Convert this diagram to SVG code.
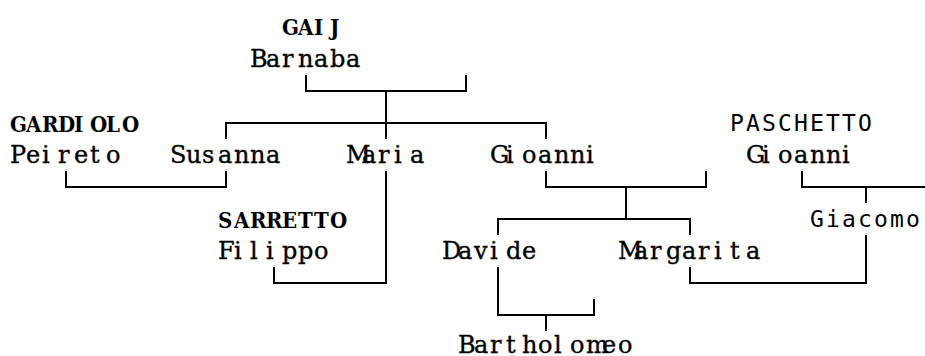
<svg xmlns="http://www.w3.org/2000/svg" width="925" height="356" viewBox="0 0 925 356">
<style>
  .n { font-family: "DejaVu Serif", "Liberation Serif", serif; font-size: 24px; fill: #000; stroke: #000; stroke-width: 0.35; }
  .s { font-family: "DejaVu Serif Condensed", "DejaVu Serif", serif; font-stretch: condensed; font-size: 22px; font-weight: bold; fill: #000; }
  .m { font-family: "DejaVu Sans Mono", "Liberation Mono", monospace; font-size: 23px; fill: #000; }
  .c { fill: none; stroke: #000; stroke-width: 2; stroke-linecap: butt; stroke-linejoin: miter; }
</style>
<rect width="925" height="356" fill="#fff"/>
<g id="connectors" class="c">
  <path d="M306,75 V91 H466 V75"/>
  <path d="M386,91 V139"/>
  <path d="M226,139 V123 H546 V139"/>
  <path d="M66,171 V187 H226 V171"/>
  <path d="M386,171 V283 H274 V267"/>
  <path d="M546,171 V187 H706 V171"/>
  <path d="M626,187 V219"/>
  <path d="M498,235 V219 H690 V235"/>
  <path d="M802,171 V187 H925"/>
  <path d="M866,187 V203"/>
  <path d="M690,267 V283 H866 V235"/>
  <path d="M498,267 V315 H594 V299"/>
  <path d="M546,315 V331"/>
</g>
<g id="gaij-barnaba">
  <text class="s" x="282 298 314 330" y="35">GAIJ</text>
  <text class="n" x="250 266 282 298 314 330 346" y="67">Barnaba</text>
</g>
<g id="gardiolo-peireto">
  <text class="s" x="10 26 42 58 74 90 106 122" y="132">GARDIOLO</text>
  <text class="n" x="10 26 42 58 74 90 106" y="163">Peireto</text>
</g>
<g id="susanna">
  <text class="n" x="170 186 202 218 234 250 266" y="163">Susanna</text>
</g>
<g id="maria">
  <text class="n" x="346 362 378 394 410" y="163">Maria</text>
</g>
<g id="gioanni">
  <text class="n" x="490 506 522 538 554 570 586" y="163">Gioanni</text>
</g>
<g id="paschetto-gioanni">
  <text class="m" x="730 746 762 778 794 810 826 842 858" y="131">PASCHETTO</text>
  <text class="n" x="746 762 778 794 810 826 842" y="163">Gioanni</text>
</g>
<g id="sarretto-filippo">
  <text class="s" x="218 234 250 266 282 298 314 330" y="228">SARRETTO</text>
  <text class="n" x="218 234 250 266 282 298 314" y="259">Filippo</text>
</g>
<g id="giacomo">
  <text class="m" x="810 826 842 858 874 890 906" y="227">Giacomo</text>
</g>
<g id="davide">
  <text class="n" x="442 458 474 490 506 522" y="259">Davide</text>
</g>
<g id="margarita">
  <text class="n" x="618 634 650 666 682 698 714 730 746" y="259">Margarita</text>
</g>
<g id="bartholomeo">
  <text class="n" x="458 474 490 506 522 538 554 570 586 602 618" y="353">Bartholomeo</text>
</g>
</svg>
